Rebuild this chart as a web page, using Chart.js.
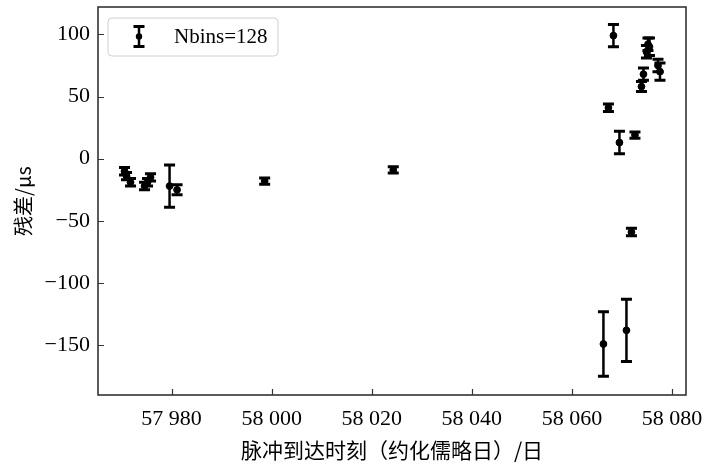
<!DOCTYPE html>
<html lang="zh">
<head>
  <meta charset="UTF-8" />
  <title>残差</title>
  <style>
    html, body { margin: 0; padding: 0; background: #fff; }
    #wrap { width: 709px; height: 464px; }
  </style>
</head>
<body>
  <div id="wrap"><canvas id="myChart" width="709" height="464"></canvas></div>
  <script src="https://cdn.jsdelivr.net/npm/chart.js"></script>
  <script>
    // data
    const mjd = [57970.6, 57971.0, 57971.8, 57974.6, 57975.2, 57975.8, 57979.6, 57981.1,
                 57998.6, 58024.3,
                 58066.3, 58067.3, 58068.3, 58069.5, 58070.9, 58071.9, 58072.6, 58073.9,
                 58074.3, 58074.9, 58075.2, 58075.5, 58077.2, 58077.6];
    const resid = [-10, -14, -19, -22, -19, -15, -22, -25,
                   -18, -9,
                   -149, 41, 99, 13, -138, -59, 19, 58,
                   68, 86, 92, 90, 75, 70];
    const errs = [3, 3, 3, 3, 3, 3, 17, 4,
                  2.5, 2.5,
                  26, 3, 9, 9, 25, 3, 2.5, 4,
                  5, 5, 5, 7, 5, 7];
    const xTicks = [57980, 58000, 58020, 58040, 58060, 58080];
    const yTicks = [-150, -100, -50, 0, 50, 100];
    const legendLabel = 'Nbins=128';

    const serif = '"Liberation Serif", "Times New Roman", serif';
    const cjk = '"Noto Sans CJK SC", sans-serif';

    function fmtX(v) {
      const s = String(v);
      return s.slice(0, 2) + ' ' + s.slice(2);
    }

    // error bars, inward ticks, frame, legend
    const errorBars = {
      id: 'errorBars',
      beforeDatasetsDraw(chart) {
        const ctx = chart.ctx, xs = chart.scales.x, ys = chart.scales.y;
        ctx.save();
        ctx.strokeStyle = '#000';
        ctx.lineCap = 'butt';
        mjd.forEach((d, i) => {
          const x = xs.getPixelForValue(d);
          const yt = ys.getPixelForValue(resid[i] + errs[i]);
          const yb = ys.getPixelForValue(resid[i] - errs[i]);
          ctx.lineWidth = 2.5;
          ctx.beginPath();
          ctx.moveTo(x, yt); ctx.lineTo(x, yb);
          ctx.stroke();
          ctx.lineWidth = 3;
          ctx.beginPath();
          ctx.moveTo(x - 5.5, yt); ctx.lineTo(x + 5.5, yt);
          ctx.moveTo(x - 5.5, yb); ctx.lineTo(x + 5.5, yb);
          ctx.stroke();
        });
        ctx.restore();
      },
      afterDraw(chart) {
        const ctx = chart.ctx, a = chart.chartArea;
        const xs = chart.scales.x, ys = chart.scales.y;
        ctx.save();
        ctx.strokeStyle = '#333';
        ctx.lineWidth = 1.2;
        ctx.beginPath();
        xTicks.forEach(v => {
          const x = Math.round(xs.getPixelForValue(v)) + 0.5;
          ctx.moveTo(x, a.bottom); ctx.lineTo(x, a.bottom - 6);
        });
        yTicks.forEach(v => {
          const y = Math.round(ys.getPixelForValue(v)) + 0.5;
          ctx.moveTo(a.left, y); ctx.lineTo(a.left + 6, y);
        });
        ctx.stroke();
        ctx.lineWidth = 1.6;
        ctx.strokeRect(a.left, a.top, a.right - a.left, a.bottom - a.top);

        // legend
        const bx = 108, by = 18, bw = 170, bh = 38;
        ctx.beginPath();
        ctx.roundRect(bx, by, bw, bh, 4);
        ctx.fillStyle = 'rgba(255,255,255,0.8)';
        ctx.fill();
        ctx.strokeStyle = '#d0d0d0';
        ctx.lineWidth = 1;
        ctx.stroke();
        const ix = 139, iy = 36.5;
        ctx.strokeStyle = '#000';
        ctx.lineWidth = 2.5;
        ctx.beginPath();
        ctx.moveTo(ix, iy - 10); ctx.lineTo(ix, iy + 10);
        ctx.stroke();
        ctx.lineWidth = 3;
        ctx.beginPath();
        ctx.moveTo(ix - 5.5, iy - 10); ctx.lineTo(ix + 5.5, iy - 10);
        ctx.moveTo(ix - 5.5, iy + 10); ctx.lineTo(ix + 5.5, iy + 10);
        ctx.stroke();
        ctx.fillStyle = '#000';
        ctx.beginPath();
        ctx.arc(ix, iy, 3.2, 0, Math.PI * 2);
        ctx.fill();
        ctx.font = '21px ' + serif;
        ctx.textBaseline = 'middle';
        ctx.fillText(legendLabel, 174, iy + 1);
        ctx.restore();
      }
    };

    const ctx = document.getElementById('myChart').getContext('2d');
    new Chart(ctx, {
      type: 'scatter',
      data: {
        datasets: [{
          label: legendLabel,
          data: mjd.map((d, i) => ({ x: d, y: resid[i] })),
          backgroundColor: '#000',
          borderColor: '#000',
          pointRadius: 3.4,
          pointHoverRadius: 3.4
        }]
      },
      options: {
        responsive: false,
        animation: false,
        layout: { padding: { left: 0, right: 23, top: 7, bottom: 0 } },
        plugins: { legend: { display: false }, tooltip: { enabled: false } },
        scales: {
          x: {
            type: 'linear',
            min: 57965.3,
            max: 58082.8,
            afterBuildTicks: s => { s.ticks = xTicks.map(v => ({ value: v })); },
            afterFit: s => { s.height = 69; s.paddingLeft = 0; s.paddingRight = 0; },
            grid: { display: false, drawTicks: false },
            border: { display: false },
            ticks: {
              padding: 11,
              color: '#000',
              font: { family: serif, size: 22 },
              maxRotation: 0,
              callback: v => fmtX(v)
            },
            title: {
              display: true,
              text: '脉冲到达时刻（约化儒略日）/日',
              color: '#000',
              font: { family: cjk, size: 21 },
              padding: { top: 0, bottom: 1 }
            }
          },
          y: {
            min: -190,
            max: 122,
            afterBuildTicks: s => { s.ticks = yTicks.map(v => ({ value: v })); },
            afterFit: s => { s.width = 98; s.paddingTop = 0; s.paddingBottom = 0; },
            grid: { display: false, drawTicks: false },
            border: { display: false },
            ticks: {
              padding: 8,
              color: '#000',
              font: { family: serif, size: 22 },
              callback: v => (v < 0 ? '\u2212' + Math.abs(v) : String(v))
            },
            title: {
              display: true,
              text: '残差/μs',
              color: '#000',
              font: { family: cjk, size: 20 },
              padding: { top: 11, bottom: 0 }
            }
          }
        }
      },
      plugins: [errorBars]
    });
  </script>
</body>
</html>
